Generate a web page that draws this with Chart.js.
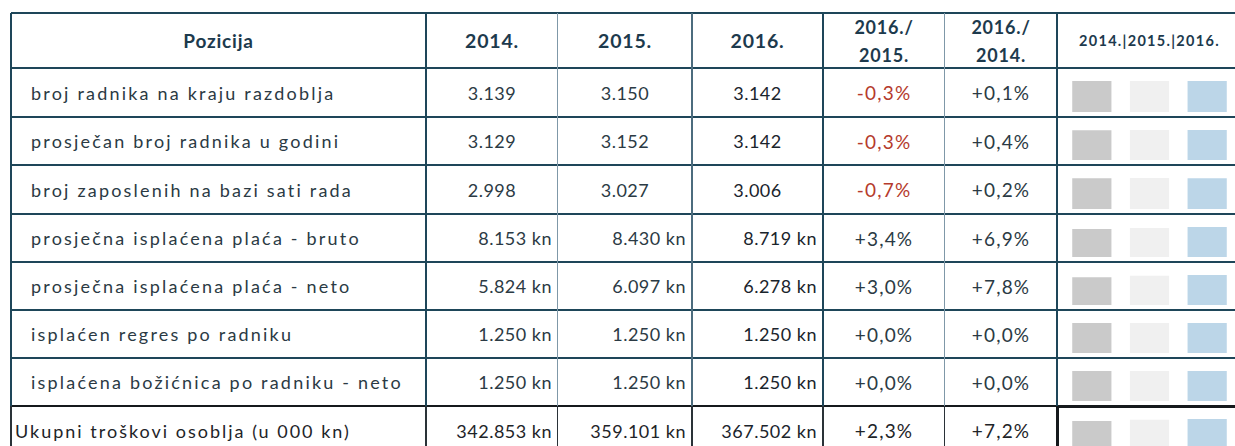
<!DOCTYPE html>
<html>
<head>
  <title>Troškovi osoblja 2014.-2016.</title>
  <script src="https://cdn.jsdelivr.net/npm/chart.js"></script>
  <style>
    body { margin: 0; width: 1235px; height: 446px; overflow: hidden; background: #fff; font-family: Lato, "Open Sans", sans-serif; position: relative; }
    .cell { position: absolute; display: flex; align-items: center; box-sizing: border-box; color: #2b3a44; font-size: 18px; letter-spacing: 0.5px; white-space: nowrap; }
    .head { font-weight: bold; color: #1d3a4d; font-size: 18px; justify-content: center; text-align: center; line-height: 28px; letter-spacing: 0.8px; }
    .line { position: absolute; }
  </style>
</head>
<body>

<script>
  const rows = [
    'broj radnika na kraju razdoblja',
    'prosječan broj radnika u godini',
    'broj zaposlenih na bazi sati rada',
    'prosječna isplaćena plaća - bruto',
    'prosječna isplaćena plaća - neto',
    'isplaćen regres po radniku',
    'isplaćena božićnica po radniku - neto',
    'Ukupni troškovi osoblja (u 000 kn)'
  ];
  const years = ['2014.', '2015.', '2016.'];
  const v2014 = [3139, 3129, 2998, 8153, 5824, 1250, 1250, 342853];
  const v2015 = [3150, 3152, 3027, 8430, 6097, 1250, 1250, 359101];
  const v2016 = [3142, 3142, 3006, 8719, 6278, 1250, 1250, 367502];
  const units = ['', '', '', ' kn', ' kn', ' kn', ' kn', ' kn'];
  const chg1615 = [-0.3, -0.3, -0.7, 3.4, 3.0, 0.0, 0.0, 2.3];
  const chg1614 = [0.1, 0.4, 0.2, 6.9, 7.8, 0.0, 0.0, 7.2];
  const barColors = ['#cacaca', '#f0f0f0', '#bcd6e8'];

  // layout of the grid
  const colX = [11, 426, 558, 692, 823, 945, 1057, 1250];
  const rowY = [13, 68, 117, 165, 214, 262, 310, 358, 406, 455];

  function fmtNum(n) {
    return String(n).replace(/\B(?=(\d{3})+(?!\d))/g, '.');
  }
  function fmtPct(p) {
    return (p < 0 ? '-' : '+') + Math.abs(p).toFixed(1).replace('.', ',') + '%';
  }

  function addCell(c, r, html, cls, style) {
    const d = document.createElement('div');
    d.className = 'cell ' + (cls || '');
    d.style.left = colX[c] + 'px';
    d.style.top = rowY[r] + 'px';
    d.style.width = (colX[c + 1] - colX[c]) + 'px';
    d.style.height = (rowY[r + 1] - rowY[r]) + 'px';
    if (style) Object.assign(d.style, style);
    d.innerHTML = html;
    document.body.appendChild(d);
    return d;
  }
  function addLine(x, y, w, h, color) {
    const d = document.createElement('div');
    d.className = 'line';
    Object.assign(d.style, { left: x + 'px', top: y + 'px', width: w + 'px', height: h + 'px', background: color });
    document.body.appendChild(d);
  }

  // header
  addCell(0, 0, 'Pozicija', 'head', { fontSize: '19px' });
  years.forEach((y, i) => addCell(i + 1, 0, y, 'head', { fontSize: '19.5px' }));
  addCell(4, 0, '2016./<br>2015.', 'head');
  addCell(5, 0, '2016./<br>2014.', 'head');
  addCell(6, 0, '2014.|2015.|2016.', 'head', { fontSize: '14.5px', letterSpacing: '1.3px', justifyContent: 'flex-start', paddingLeft: '22px' });

  rows.forEach((name, i) => {
    const r = i + 1;
    const last = i === rows.length - 1;
    const col = last ? '#1e2428' : '#2b3a44';
    addCell(0, r, name, '', { paddingLeft: last ? '4px' : '20px', letterSpacing: last ? '2px' : '2.2px', color: col });
    const kn = units[i] !== '';
    const numStyle = kn ? { justifyContent: 'flex-end', paddingRight: '6px', color: col } : { justifyContent: 'center', color: col };
    addCell(1, r, fmtNum(v2014[i]) + units[i], '', numStyle);
    addCell(2, r, fmtNum(v2015[i]) + units[i], '', numStyle);
    addCell(3, r, fmtNum(v2016[i]) + units[i], '', Object.assign({}, numStyle, { color: '#1a242c' }));
    addCell(4, r, fmtPct(chg1615[i]), '', { justifyContent: 'center', fontSize: '19px', letterSpacing: '1.2px', color: chg1615[i] < 0 ? '#b53a2c' : col });
    addCell(5, r, fmtPct(chg1614[i]), '', { justifyContent: 'center', fontSize: '19px', letterSpacing: '1.2px', color: chg1614[i] < 0 ? '#b53a2c' : col });

    // small bar chart for each row
    const cv = document.createElement('canvas');
    const h = rowY[r + 1] - rowY[r];
    cv.width = 173; cv.height = h;
    Object.assign(cv.style, { position: 'absolute', left: (colX[6] + 6) + 'px', top: rowY[r] + 'px', width: '173px', height: h + 'px' });
    document.body.appendChild(cv);
    const vals = [v2014[i], v2015[i], v2016[i]];
    new Chart(cv.getContext('2d'), {
      type: 'bar',
      data: {
        labels: years,
        datasets: [{
          data: vals,
          backgroundColor: barColors,
          barPercentage: 0.68,
          categoryPercentage: 1
        }]
      },
      options: {
        responsive: false,
        animation: false,
        layout: { padding: { top: 13, bottom: 5 } },
        plugins: { legend: { display: false }, tooltip: { enabled: false } },
        scales: {
          x: { display: false },
          y: { display: false, min: 0, max: Math.max(...vals) }
        }
      }
    });
  });

  // grid lines
  const dark = '#1e4659';
  rowY.forEach((y, r) => {
    if (r === rowY.length - 1) return;
    addLine(colX[0], y - 1, colX[7] - colX[0], 2, r === 8 ? '#15191c' : dark);
  });
  addLine(colX[6], rowY[8] - 1, colX[7] - colX[6], 3, '#15191c');
  const vStyle = [[2, dark], [2, dark], [1, '#7f98a8'], [1.5, '#4c6c7e'], [2, dark], [1, '#7f98a8'], [2, dark]];
  vStyle.forEach(([w, c], k) => {
    addLine(colX[k] - 1, rowY[0], w, rowY[8] - rowY[0], c);
    addLine(colX[k] - 1, rowY[8], k === 6 ? 3 : w, rowY[9] - rowY[8], k === 6 ? '#15191c' : '#2a3238');
  });
</script>

</body>
</html>
